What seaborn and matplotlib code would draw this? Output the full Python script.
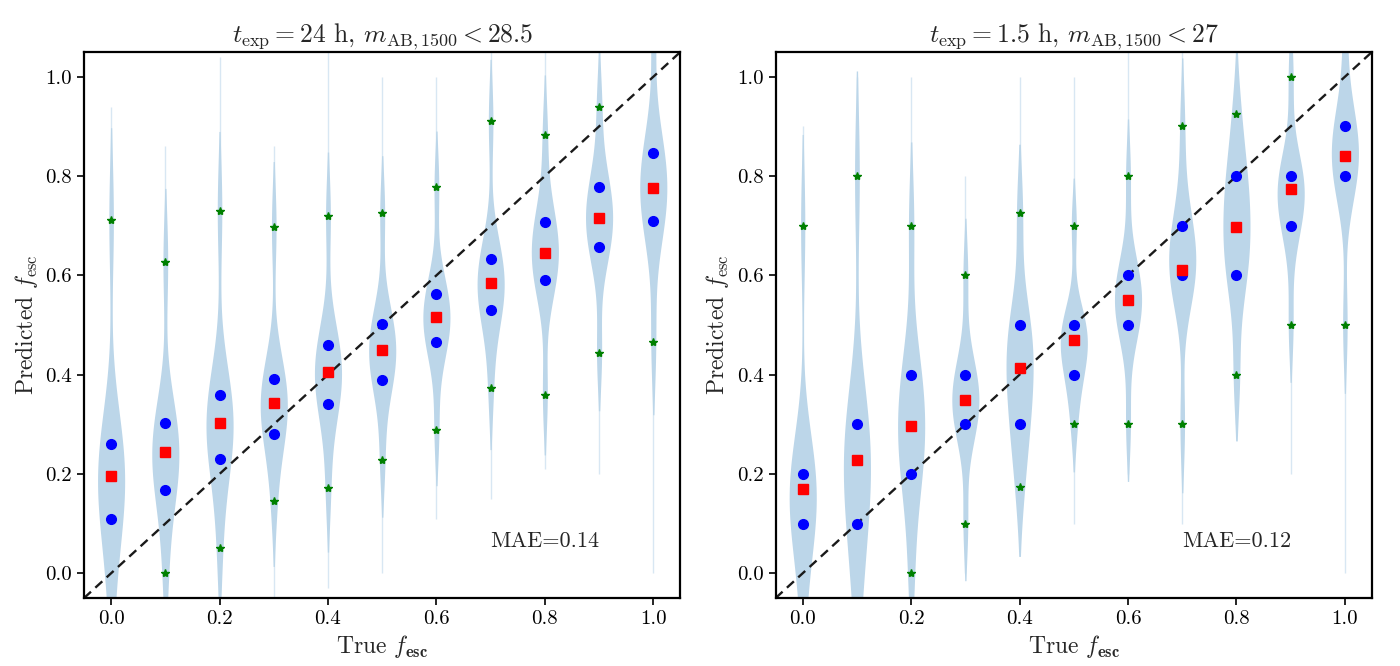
import numpy as np
import pandas as pd
import matplotlib
matplotlib.use('Agg')
import matplotlib.pyplot as plt
import seaborn as sns

# True escape fractions (violin positions)
f_true = [0.0, 0.1, 0.2, 0.3, 0.4, 0.5, 0.6, 0.7, 0.8, 0.9, 1.0]

# Left panel: t_exp = 24 h, m_AB,1500 < 28.5
deep_tail_lo = [-0.09, -0.08, -0.04, -0.05, -0.03, 0.0, 0.11, 0.15, 0.21, 0.2, 0.0]
deep_star_lo = [-0.07, 0.0, 0.05, 0.145, 0.171, 0.229, 0.289, 0.374, 0.36, 0.444, 0.466]
deep_blue_lo = [0.11, 0.167, 0.231, 0.281, 0.34, 0.39, 0.465, 0.531, 0.591, 0.657, 0.71]
deep_mean = [0.195, 0.245, 0.303, 0.343, 0.405, 0.449, 0.516, 0.584, 0.645, 0.715, 0.776]
deep_blue_hi = [0.261, 0.302, 0.359, 0.392, 0.459, 0.503, 0.562, 0.633, 0.707, 0.778, 0.846]
deep_star_hi = [0.711, 0.627, 0.73, 0.698, 0.72, 0.725, 0.778, 0.91, 0.882, 0.94, 1.1]
deep_tail_hi = [0.94, 0.86, 1.04, 0.86, 1.05, 1.0, 1.0, 1.06, 1.06, 1.08, 1.15]
deep_mae = 0.14

# Right panel: t_exp = 1.5 h, m_AB,1500 < 27
shallow_tail_lo = [-0.09, -0.09, -0.05, 0.0, 0.1, 0.1, 0.2, 0.1, 0.3, 0.2, 0.0]
shallow_star_lo = [-0.07, -0.07, 0.0, 0.1, 0.173, 0.3, 0.3, 0.3, 0.4, 0.5, 0.5]
shallow_blue_lo = [0.1, 0.1, 0.2, 0.3, 0.3, 0.4, 0.5, 0.6, 0.6, 0.7, 0.8]
shallow_mean = [0.169, 0.229, 0.297, 0.348, 0.413, 0.47, 0.551, 0.611, 0.697, 0.774, 0.84]
shallow_blue_hi = [0.2, 0.3, 0.4, 0.4, 0.5, 0.5, 0.6, 0.7, 0.8, 0.8, 0.9]
shallow_star_hi = [0.7, 0.8, 0.7, 0.6, 0.725, 0.7, 0.8, 0.9, 0.925, 1.0, 1.1]
shallow_tail_hi = [0.9, 1.0, 1.0, 0.8, 1.0, 1.0, 1.06, 1.06, 1.0, 1.08, 1.15]
shallow_mae = 0.12

# relative number of predictions at each summary value
counts = [14, 30, 34, 30, 14]

sns.set_theme(style='ticks')
plt.rcParams['font.family'] = 'serif'
plt.rcParams['font.serif'] = ['cmr10']
plt.rcParams['mathtext.fontset'] = 'cm'
plt.rcParams['axes.formatter.use_mathtext'] = True
plt.rcParams['axes.unicode_minus'] = False
plt.rcParams['axes.edgecolor'] = 'black'
plt.rcParams['xtick.color'] = 'black'
plt.rcParams['ytick.color'] = 'black'


def violin_frame(star_lo, blue_lo, mean, blue_hi, star_hi):
    rows = []
    for i, f in enumerate(f_true):
        vals = [star_lo[i], blue_lo[i], mean[i], blue_hi[i], star_hi[i]]
        for v in np.repeat(vals, counts):
            rows.append((f, v))
    return pd.DataFrame(rows, columns=['true', 'pred'])


panels = [
    (r'$t_{\rm exp} = 24$ h, $m_{\rm AB,1500} < 28.5$',
     deep_tail_lo, deep_star_lo, deep_blue_lo, deep_mean, deep_blue_hi, deep_star_hi, deep_tail_hi, deep_mae),
    (r'$t_{\rm exp} = 1.5$ h, $m_{\rm AB,1500} < 27$',
     shallow_tail_lo, shallow_star_lo, shallow_blue_lo, shallow_mean, shallow_blue_hi, shallow_star_hi, shallow_tail_hi, shallow_mae),
]

fig = plt.figure(figsize=(14, 6.66), dpi=100)
axes = [fig.add_axes([0.06, 0.102, 0.426, 0.82]), fig.add_axes([0.554, 0.102, 0.426, 0.82])]

for ax, (title, t_lo, s_lo, b_lo, mn, b_hi, s_hi, t_hi, mae) in zip(axes, panels):
    # faint full range of predictions
    ax.vlines(f_true, t_lo, t_hi, color='#d8e7f3', lw=1.0, zorder=0)

    df = violin_frame(s_lo, b_lo, mn, b_hi, s_hi)
    sns.violinplot(data=df, x='true', y='pred', native_scale=True, width=0.5,
                   inner=None, cut=1.6, density_norm='width', bw_adjust=1.5,
                   color='#bcd6e9', saturation=1, linewidth=0, ax=ax)

    ax.plot([-0.05, 1.05], [-0.05, 1.05], 'k--', lw=1.7, dashes=(4, 2.5))
    ax.plot(f_true, s_lo, '*', color='green', ms=6, ls='none')
    ax.plot(f_true, s_hi, '*', color='green', ms=6, ls='none')
    ax.plot(f_true, b_lo, 'o', color='blue', ms=7, ls='none')
    ax.plot(f_true, b_hi, 'o', color='blue', ms=7, ls='none')
    ax.plot(f_true, mn, 's', color='red', ms=7.5, ls='none')

    ax.text(0.8, 0.065, f'MAE={mae:.2f}', ha='center', va='center', fontsize=16)

    ax.set_xlim(-0.05, 1.05)
    ax.set_ylim(-0.05, 1.05)
    ax.set_xticks([0.0, 0.2, 0.4, 0.6, 0.8, 1.0])
    ax.set_yticks([0.0, 0.2, 0.4, 0.6, 0.8, 1.0])
    ax.set_xticklabels(['0.0', '0.2', '0.4', '0.6', '0.8', '1.0'])
    ax.set_yticklabels(['0.0', '0.2', '0.4', '0.6', '0.8', '1.0'])
    ax.tick_params(labelsize=15, length=5, width=1.2)
    for sp in ax.spines.values():
        sp.set_visible(True)
        sp.set_linewidth(1.6)
    ax.set_title(title, fontsize=18.5)
    ax.set_xlabel(r'True $f_{\mathbf{esc}}$', fontsize=17)
    ax.set_ylabel(r'Predicted $f_{\rm esc}$', fontsize=17)

fig.savefig('out.png', dpi=100)
